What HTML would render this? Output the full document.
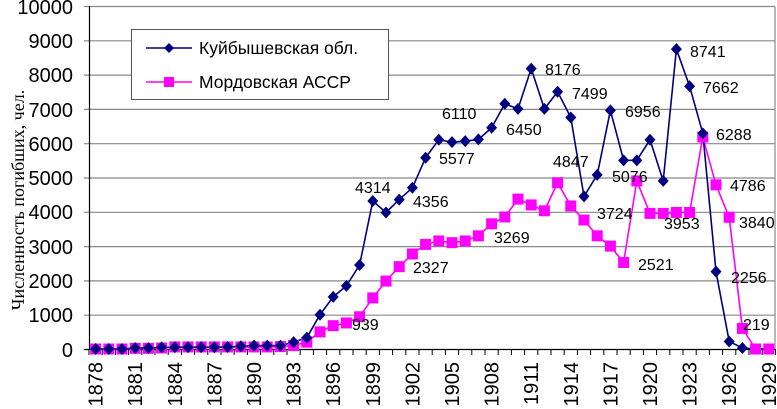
<!DOCTYPE html>
<html><head><meta charset="utf-8"><style>
body{margin:0;background:#fff}
svg{display:block;font-family:"Liberation Sans",Arial,sans-serif}
</style></head><body>
<svg id="s" width="777" height="409" viewBox="0 0 777 409" xmlns="http://www.w3.org/2000/svg">
<g stroke="#888" stroke-width="1.2">
<line x1="84" y1="6.5" x2="775" y2="6.5"/>
<line x1="84" y1="40.8" x2="775" y2="40.8"/>
<line x1="84" y1="75.1" x2="775" y2="75.1"/>
<line x1="84" y1="109.4" x2="775" y2="109.4"/>
<line x1="84" y1="143.7" x2="775" y2="143.7"/>
<line x1="84" y1="178" x2="775" y2="178"/>
<line x1="84" y1="212.3" x2="775" y2="212.3"/>
<line x1="84" y1="246.6" x2="775" y2="246.6"/>
<line x1="84" y1="280.9" x2="775" y2="280.9"/>
<line x1="84" y1="315.2" x2="775" y2="315.2"/>
<line x1="775" y1="6.5" x2="775" y2="349.5"/>
</g>
<g id="ticks" stroke="#000" stroke-width="1"></g>
<line x1="89.5" y1="6" x2="89.5" y2="350" stroke="#000" stroke-width="1.2"/>
<line x1="84" y1="349.5" x2="775" y2="349.5" stroke="#000" stroke-width="1.2"/>
<g font-size="20" text-anchor="end" fill="#000">
<text x="73" y="14">10000</text><text x="73" y="48">9000</text><text x="73" y="82">8000</text>
<text x="73" y="117">7000</text><text x="73" y="151">6000</text><text x="73" y="185">5000</text>
<text x="73" y="219">4000</text><text x="73" y="254">3000</text><text x="73" y="288">2000</text>
<text x="73" y="322">1000</text><text x="73" y="357">0</text>
</g>
<text transform="translate(24,200) rotate(-90)" text-anchor="middle" font-family="Liberation Serif,serif" font-size="18">Численность погибших, чел.</text>
<g font-size="20" text-anchor="end">
<text transform="translate(102.6,362) rotate(-90)">1878</text>
<text transform="translate(142.2,362) rotate(-90)">1881</text>
<text transform="translate(181.8,362) rotate(-90)">1884</text>
<text transform="translate(221.4,362) rotate(-90)">1887</text>
<text transform="translate(261,362) rotate(-90)">1890</text>
<text transform="translate(300.6,362) rotate(-90)">1893</text>
<text transform="translate(340.2,362) rotate(-90)">1896</text>
<text transform="translate(379.8,362) rotate(-90)">1899</text>
<text transform="translate(419.4,362) rotate(-90)">1902</text>
<text transform="translate(459,362) rotate(-90)">1905</text>
<text transform="translate(498.6,362) rotate(-90)">1908</text>
<text transform="translate(538.2,362) rotate(-90)">1911</text>
<text transform="translate(577.8,362) rotate(-90)">1914</text>
<text transform="translate(617.4,362) rotate(-90)">1917</text>
<text transform="translate(657,362) rotate(-90)">1920</text>
<text transform="translate(696.6,362) rotate(-90)">1923</text>
<text transform="translate(736.2,362) rotate(-90)">1926</text>
<text transform="translate(775.8,362) rotate(-90)">1929</text>
</g>
<g id="series"></g>
<g font-size="16" fill="#000">
<text x="355" y="193">4314</text><text x="413" y="207">4356</text><text x="442" y="119">6110</text>
<text x="439" y="164">5577</text><text x="506" y="135">6450</text><text x="545" y="75">8176</text>
<text x="572" y="99">7499</text><text x="553" y="167">4847</text><text x="625" y="117">6956</text>
<text x="612" y="182">5076</text><text x="690" y="57">8741</text><text x="703" y="93">7662</text>
<text x="716" y="140">6288</text><text x="730" y="191">4786</text><text x="597" y="219">3724</text>
<text x="664" y="229">3953</text><text x="739" y="228">3840</text><text x="638" y="270">2521</text>
<text x="731" y="283">2256</text><text x="743" y="330">219</text><text x="352" y="330">939</text>
<text x="413" y="273">2327</text><text x="494" y="243">3269</text>
</g>
<rect x="131.5" y="29.5" width="257" height="70" fill="#fff" stroke="#555" stroke-width="1"/>
<line x1="146" y1="48" x2="192" y2="48" stroke="#000080" stroke-width="1.5"/>
<polygon points="169,43 174,48 169,53 164,48" fill="#000080"/>
<line x1="146" y1="82" x2="192" y2="82" stroke="#ff00ff" stroke-width="1.5"/>
<rect x="164" y="77" width="10" height="10" fill="#ff00ff"/>
<text x="199" y="54" font-size="17.5">Куйбышевская обл.</text>
<text x="199" y="88" font-size="17.5">Мордовская АССР</text>
</svg>
<script>
var ns="http://www.w3.org/2000/svg";
var t=document.getElementById("ticks");
for(var k=0;k<=52;k++){var x=89+13.2*k;var l=document.createElementNS(ns,"line");l.setAttribute("x1",x);l.setAttribute("x2",x);l.setAttribute("y1",349);l.setAttribute("y2",355);t.appendChild(l);}
function X(i){return 95.6+13.2*i}
function Y(v){return 349-v*0.0343}
var g=document.getElementById("series");
function line(d,c){var p=document.createElementNS(ns,"polyline");p.setAttribute("points",d.map(function(v,i){return X(i)+","+Y(v)}).join(" "));p.setAttribute("fill","none");p.setAttribute("stroke",c);p.setAttribute("stroke-width","1.6");g.appendChild(p);}
var blue=[0,0,0,30,30,50,50,50,50,50,60,80,100,100,100,200, 330,1000,1520,1840,2450,4314,3980,4356,4700,5577,6100,6030,6060,6110,6450,7150,7000,8176,7000,7499,6750,4450,5076,6956,5500,5500,6100,4900,8741,7662,6288,2256,220,30,0,0];
var mag=[0,0,0,20,20,30,60,60,60,60,60,60,60,60,70,100, 200,500,680,760,939,1490,1980,2400,2770,3050,3150,3100,3150,3300,3650,3850,4370,4200,4030,4847,4170,3760,3300,3000,2521,4900,3953,3953,3980,3980,6180,4786,3840,600,0,0];
line(mag,"#ff00ff");line(blue,"#000080");
mag.forEach(function(v,i){var r=document.createElementNS(ns,"rect");r.setAttribute("x",X(i)-5.5);r.setAttribute("y",Y(v)-5.5);r.setAttribute("width",11);r.setAttribute("height",11);r.setAttribute("fill","#ff00ff");g.appendChild(r);});
blue.forEach(function(v,i){if(i>=50)return;var p=document.createElementNS(ns,"polygon");var x=X(i),y=Y(v);p.setAttribute("points",x+","+(y-6)+" "+(x+5.5)+","+y+" "+x+","+(y+6)+" "+(x-5.5)+","+y);p.setAttribute("fill","#000080");g.appendChild(p);});
</script>
</body></html>
